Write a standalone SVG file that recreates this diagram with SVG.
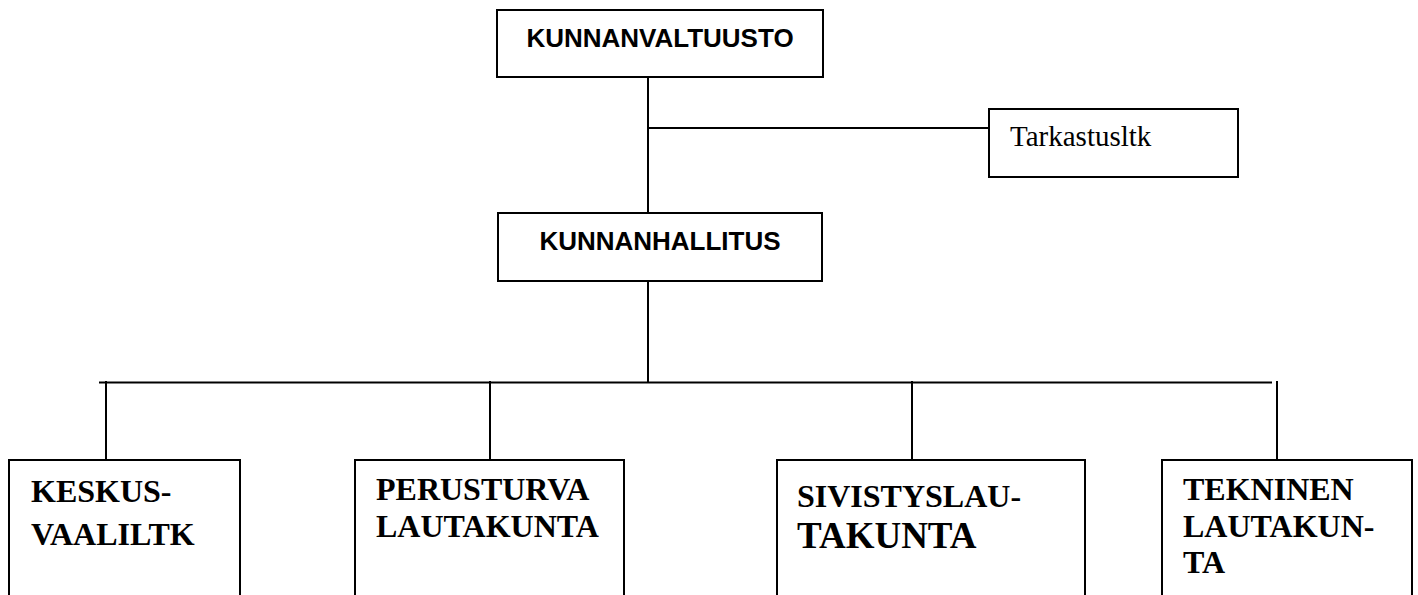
<svg xmlns="http://www.w3.org/2000/svg" width="1418" height="595" viewBox="0 0 1418 595">
<style>
.box{fill:#fff;stroke:#000;stroke-width:2}
.ln{stroke:#000;stroke-width:2;fill:none}
.hs{font-family:"Liberation Sans",Arial,sans-serif;font-weight:bold;font-size:26px;fill:#000;text-anchor:middle}
.ts{font-family:"Liberation Serif","Times New Roman",serif;font-size:29px;fill:#000}
.tb{font-family:"Liberation Serif","Times New Roman",serif;font-weight:bold;font-size:32px;fill:#000}
</style>
<rect width="1418" height="595" fill="#fff"/>
<g id="connectors">
<line class="ln" x1="648" y1="77" x2="648" y2="213"/>
<line class="ln" x1="648" y1="128" x2="989" y2="128"/>
<line class="ln" x1="648" y1="281" x2="648" y2="382.5"/>
<line class="ln" x1="99" y1="382.5" x2="1272" y2="382.5"/>
<line class="ln" x1="106" y1="381" x2="106" y2="460"/>
<line class="ln" x1="490" y1="381" x2="490" y2="460"/>
<line class="ln" x1="912" y1="381" x2="912" y2="460"/>
<line class="ln" x1="1277" y1="381" x2="1277" y2="460"/>
</g>
<g id="kunnanvaltuusto">
<rect class="box" x="497" y="10" width="326" height="67"/>
<text class="hs" x="660" y="47">KUNNANVALTUUSTO</text>
</g>
<g id="tarkastusltk">
<rect class="box" x="989" y="109" width="249" height="68"/>
<text class="ts" x="1010" y="146">Tarkastusltk</text>
</g>
<g id="kunnanhallitus">
<rect class="box" x="498" y="213" width="324" height="68"/>
<text class="hs" x="660" y="250">KUNNANHALLITUS</text>
</g>
<g id="keskusvaaliltk">
<rect class="box" x="9" y="460" width="231" height="170"/>
<text class="tb" x="31" y="502">KESKUS-</text>
<text class="tb" x="31" y="545">VAALILTK</text>
</g>
<g id="perusturva">
<rect class="box" x="355" y="460" width="269" height="170"/>
<text class="tb" x="376" y="500">PERUSTURVA</text>
<text class="tb" x="376" y="537">LAUTAKUNTA</text>
</g>
<g id="sivistyslautakunta">
<rect class="box" x="777" y="460" width="308" height="170"/>
<text class="tb" x="797" y="507">SIVISTYSLAU-</text>
<text class="tb" x="797" y="548" style="font-size:37px">TAKUNTA</text>
</g>
<g id="tekninen">
<rect class="box" x="1162" y="460" width="250" height="170"/>
<text class="tb" x="1183" y="500">TEKNINEN</text>
<text class="tb" x="1183" y="537">LAUTAKUN-</text>
<text class="tb" x="1183" y="573">TA</text>
</g>
</svg>
